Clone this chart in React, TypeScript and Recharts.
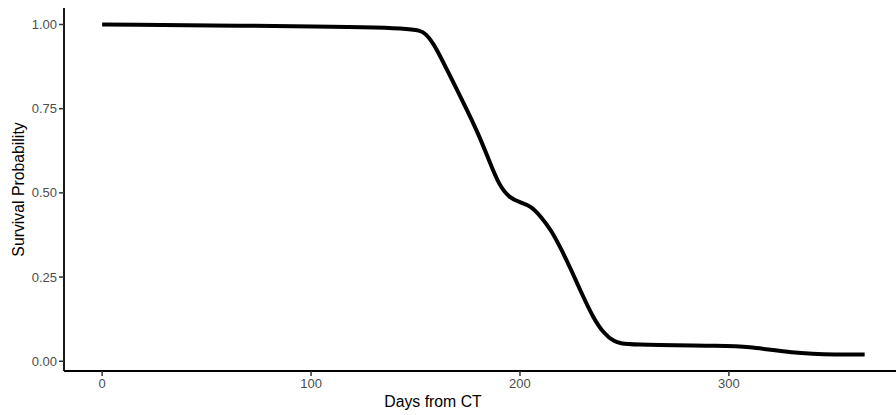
import React from 'react';
import { LineChart, Line, XAxis, YAxis } from 'recharts';

const days = [0, 100, 150, 155, 160, 165, 170, 175, 180, 185, 190, 195, 200, 205, 210, 215, 220, 225, 230, 235, 240, 245, 250, 300, 310, 320, 330, 340, 350, 365];
const survival = [1.0, 0.995, 0.99, 0.975, 0.93, 0.866, 0.805, 0.742, 0.676, 0.6, 0.522, 0.485, 0.472, 0.462, 0.43, 0.389, 0.33, 0.265, 0.195, 0.13, 0.083, 0.058, 0.048, 0.046, 0.042, 0.034, 0.026, 0.022, 0.02, 0.02];
const xTicks = [0, 100, 200, 300];
const yTicks = [0, 0.25, 0.5, 0.75, 1];

const data = days.map((d, i) => ({ day: d, surv: survival[i] }));

const FONT = '"Liberation Sans", Arial, sans-serif';
const tickStyle = { fill: '#4D4D4D', fontSize: 13, fontFamily: FONT };

export default function App() {
  return (
    <div style={{ position: 'absolute', left: 0, top: 0, width: 896, height: 415, overflow: 'hidden', background: '#fff' }}>
      <LineChart width={896} height={415} data={data} margin={{ top: 8, right: 0, bottom: 0, left: 0 }}>
        <XAxis
          dataKey="day"
          type="number"
          domain={[-18.25, 380]}
          allowDataOverflow
          ticks={xTicks}
          height={44}
          stroke="#000"
          strokeWidth={1.8}
          tickSize={5}
          tickMargin={3}
          tick={tickStyle}
          tickLine={{ stroke: '#333', strokeWidth: 1.5 }}
          label={{ value: 'Days from CT', position: 'insideBottom', offset: 8, dx: -47, style: { fill: '#000', fontSize: 15.8, fontFamily: FONT } }}
        />
        <YAxis
          type="number"
          domain={[-0.029, 1.049]}
          allowDataOverflow
          ticks={yTicks}
          width={64}
          stroke="#000"
          strokeWidth={1.8}
          tickSize={5}
          tickMargin={2}
          tick={tickStyle}
          tickLine={{ stroke: '#333', strokeWidth: 1.5 }}
          tickFormatter={(v: number) => v.toFixed(2)}
          label={{ value: 'Survival Probability', angle: -90, position: 'center', dx: -13.5, style: { fill: '#000', fontSize: 15.8, fontFamily: FONT } }}
        />
        <Line dataKey="surv" type="basis" stroke="#000" strokeWidth={4} dot={false} isAnimationActive={false} />
      </LineChart>
    </div>
  );
}
